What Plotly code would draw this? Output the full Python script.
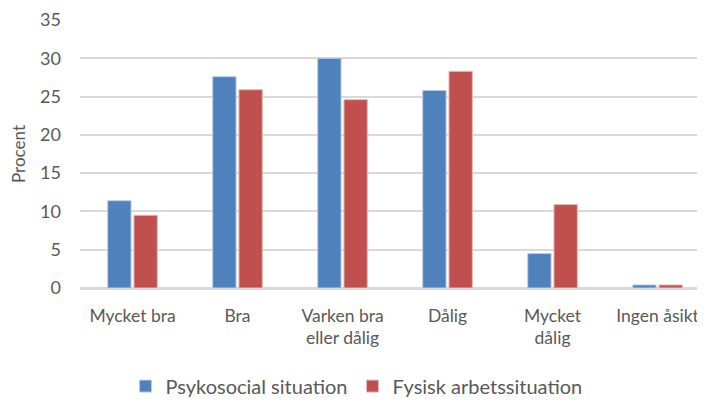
import plotly.graph_objects as go

categories = ["Mycket bra", "Bra", "Varken bra<br>eller dålig", "Dålig", "Mycket<br>dålig", "Ingen åsikt"]
psykosocial = [11.4, 27.6, 30.0, 25.8, 4.5, 0.4]
fysisk = [9.5, 25.9, 24.6, 28.3, 10.9, 0.4]
series_names = ["Psykosocial situation", "Fysisk arbetssituation"]
y_ticks = [0, 5, 10, 15, 20, 25, 30, 35]

FONT = "Lato, 'Open Sans', sans-serif"
TXT = "#595959"

fig = go.Figure()
fig.add_trace(go.Bar(x=list(range(len(categories))), y=psykosocial, name=series_names[0],
                     marker=dict(color="#4F81BD", line=dict(color="#B9CDE5", width=1))))
fig.add_trace(go.Bar(x=list(range(len(categories))), y=fysisk, name=series_names[1],
                     marker=dict(color="#C0504D", line=dict(color="#E6B9B8", width=1))))

fig.update_layout(
    width=697, height=393,
    margin=dict(l=72, r=0, t=12, b=113, autoexpand=False),
    paper_bgcolor="white", plot_bgcolor="white",
    barmode="group", bargap=0.5, bargroupgap=0.11,
    font=dict(family=FONT, size=17, color=TXT),
    legend=dict(orientation="h", x=0.5, xanchor="center", xref="container",
                y=-0.366, yanchor="middle", yref="paper",
                font=dict(size=20, color=TXT), itemwidth=30, tracegroupgap=0),
    showlegend=True,
)
fig.update_xaxes(
    tickmode="array", tickvals=list(range(len(categories))), ticktext=categories,
    range=[-0.5, 5.452], showgrid=False, zeroline=False, showline=False,
    ticks="", tickfont=dict(size=17.5, color=TXT), ticklabelstandoff=15, automargin=False,
)
fig.update_yaxes(
    range=[0, 35], tickvals=y_ticks, showgrid=True, gridcolor="#D9D9D9", gridwidth=1.5,
    zeroline=True, zerolinecolor="#D9D9D9", zerolinewidth=2.5,
    showline=False, ticks="", ticklabelstandoff=18, automargin=False,
    tickfont=dict(size=18, color=TXT),
    title=dict(text="Procent", font=dict(size=17, color=TXT), standoff=30),
)
fig.write_html("out.html")
